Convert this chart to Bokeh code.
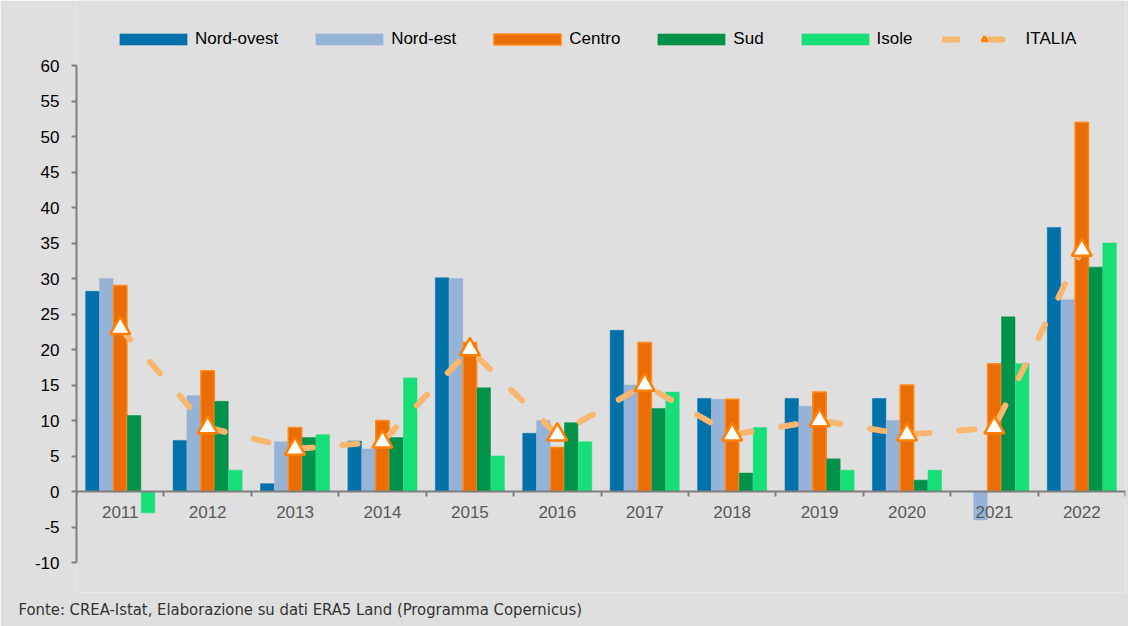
from bokeh.plotting import figure
from bokeh.models import (Range1d, LinearAxis, FixedTicker, Legend, LegendItem, Title,
                          ColumnDataSource, CustomJSTickFormatter)
from bokeh.transform import dodge
from bokeh.core.properties import value
from bokeh.embed import file_html
from bokeh.resources import INLINE

# ---------------- data ----------------
years = ["2011", "2012", "2013", "2014", "2015", "2016",
         "2017", "2018", "2019", "2020", "2021", "2022"]
nord_ovest = [28.2, 7.2, 1.1, 7.1, 30.1, 8.2, 22.7, 13.1, 13.1, 13.1, 0.0, 37.2]
nord_est = [30.0, 13.5, 7.0, 6.0, 30.0, 10.0, 15.0, 13.0, 12.0, 10.0, -4.0, 27.0]
centro = [29.0, 17.0, 9.0, 10.0, 21.0, 6.2, 21.0, 13.0, 14.0, 15.0, 18.0, 52.0]
sud = [10.7, 12.7, 7.6, 7.6, 14.6, 9.7, 11.7, 2.6, 4.6, 1.6, 24.6, 31.6]
isole = [-3.0, 3.0, 8.0, 16.0, 5.0, 7.0, 14.0, 9.0, 3.0, 3.0, 18.0, 35.0]
italia = [23.0, 9.0, 6.0, 7.0, 20.0, 8.0, 15.0, 8.0, 10.0, 8.0, 9.0, 34.0]
y_ticks = [-10, -5, 0, 5, 10, 15, 20, 25, 30, 35, 40, 45, 50, 55, 60]
series_names = ["Nord-ovest", "Nord-est", "Centro", "Sud", "Isole"]
source_note = "Fonte: CREA-Istat, Elaborazione su dati ERA5 Land (Programma Copernicus)"

idx = list(range(len(years)))
src = ColumnDataSource(dict(x=idx, no=nord_ovest, ne=nord_est, ce=centro,
                            su=sud, iso=isole, it=italia,
                            year=years, zero=[0] * len(years)))

BG = "#DFDFDF"
FONT = "Liberation Sans"

# layout (pixels)
W, H = 1128, 626
LEFT, RIGHT, TOP, BOTTOM = 76, 3, 0, 34
AXIS_TOP_PX, AXIS_BOT_PX = 65, 562          # where 60 and -10 sit
ymin_ax, ymax_ax = y_ticks[0], y_ticks[-1]
ppu = (AXIS_BOT_PX - AXIS_TOP_PX) / (ymax_ax - ymin_ax)
frame_bot_px = H - BOTTOM
y_lo = ymin_ax - (frame_bot_px - AXIS_BOT_PX) / ppu
y_hi = ymax_ax + (AXIS_TOP_PX - TOP) / ppu

p = figure(width=W, height=H,
           x_range=Range1d(-0.5, len(years) - 0.5), y_range=Range1d(y_lo, y_hi),
           output_backend="svg", toolbar_location=None,
           x_axis_location=None, y_axis_location=None,
           min_border_left=LEFT, min_border_right=RIGHT, min_border_top=TOP,
           min_border_bottom=BOTTOM,
           background_fill_color=BG, border_fill_color=BG, outline_line_color=None)
p.grid.visible = False

# y axis, limited to -10..60
yax = LinearAxis(ticker=FixedTicker(ticks=y_ticks), bounds=(ymin_ax, ymax_ax),
                 major_label_overrides={t: str(t) for t in y_ticks},
                 axis_line_color="#7F7F7F", axis_line_width=2,
                 major_tick_line_color="#7F7F7F", major_tick_line_width=2,
                 major_tick_out=5, major_tick_in=0, minor_tick_line_color=None,
                 major_label_standoff=12, major_label_text_font=FONT,
                 major_label_text_font_size="17px", major_label_text_color="#000000")
p.add_layout(yax, "left")

# x axis line at y = 0 with ticks between categories
bounds = [i - 0.5 for i in range(len(years) + 1)]
xax = LinearAxis(ticker=FixedTicker(ticks=bounds), fixed_location=0,
                 axis_line_color="#7F7F7F", axis_line_width=2,
                 major_tick_line_color="#7F7F7F",
                 major_tick_line_width=2, major_tick_out=5, major_tick_in=0,
                 minor_tick_line_color=None, major_label_standoff=0,
                 formatter=CustomJSTickFormatter(code="return ''"))
p.add_layout(xax, "below")

w = 0.159
cols = ["no", "ne", "ce", "su", "iso"]
fills = ["#0071A9", "#95B3D7", "#EA6D06", "#00924A", "#17DF77"]
lines = ["#0071A9", "#95B3D7", "#FF8A1C", "#00924A", "#17DF77"]
renderers = []
for k, (c, f, l) in enumerate(zip(cols, fills, lines)):
    off = (k - 2) * w
    r = p.vbar(x=dodge("x", off), top=c, bottom=0, width=w * 0.97, source=src,
               fill_color=f, line_color=l, line_width=1.5 if c == "ce" else 0.5)
    renderers.append(r)

# category labels under the zero line
p.text(x="x", y="zero", text="year", source=src, y_offset=20,
       text_align="center", text_baseline="middle",
       text_font=value(FONT), text_font_size="17px", text_color="#595959")

r_line = p.line(x="x", y="it", source=src, line_color="#F8B66F", line_width=6,
                line_dash="15 30", line_cap="round")
r_tri = p.scatter(x="x", y="it", source=src, marker="triangle", size=20,
                  fill_color="white", line_color="#FF7F00", line_width=2.5)

items = [LegendItem(label=n, renderers=[r]) for n, r in zip(series_names, renderers)]
items.append(LegendItem(label="ITALIA", renderers=[r_line, r_tri]))
legend = Legend(items=items, orientation="horizontal", location=(35, 543),
                glyph_width=84, glyph_height=14, label_standoff=0, spacing=29,
                padding=4, margin=0,
                background_fill_alpha=0, border_line_color=None,
                label_text_font=FONT, label_text_font_size="17px",
                label_text_color="#000000")
p.add_layout(legend, "center")

note = Title(text=source_note, align="left", offset=-58,
             text_font="DejaVu Sans Condensed, Liberation Sans", text_font_size="16.5px",
             text_font_style="normal", text_color="#333333")
p.add_layout(note, "below")

open("out.html", "w").write(file_html(p, INLINE))
